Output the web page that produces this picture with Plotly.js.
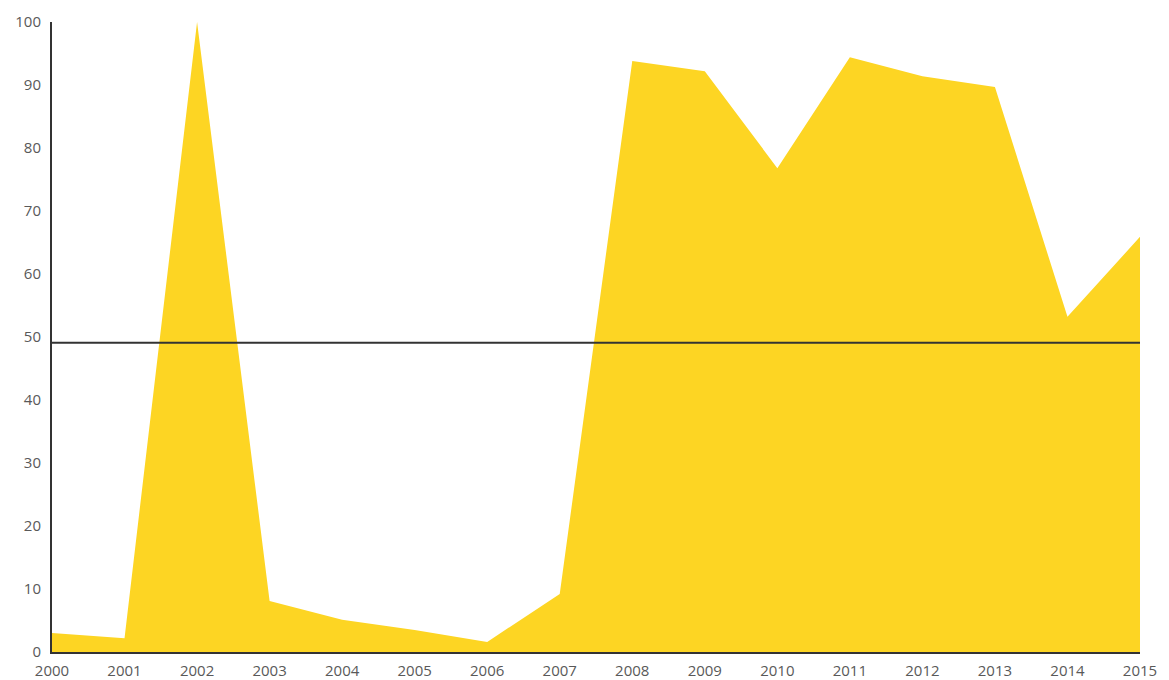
<!DOCTYPE html>
<html>
<head>
<meta charset="utf-8">
<script src="https://cdn.plot.ly/plotly-3.0.1.min.js"></script>
<style>html,body{margin:0;padding:0;background:#fff;}#chart{width:1169px;height:680px;}</style>
</head>
<body>
<div id="chart"></div>
<script>
var years = [2000,2001,2002,2003,2004,2005,2006,2007,2008,2009,2010,2011,2012,2013,2014,2015];
var values = [3.0,2.2,100,8.1,5.1,3.5,1.6,9.2,93.8,92.2,76.8,94.4,91.4,89.7,53.2,65.9];
var refLevel = [49.1,49.1];
var refYears = [2000,2015];
var yTicks = [0,10,20,30,40,50,60,70,80,90,100];

var traces = [
  {x: years, y: values, type: 'scatter', mode: 'lines', fill: 'tozeroy',
   fillcolor: '#FDD523', line: {width: 0, color: '#FDD523'}, hoverinfo: 'x+y'},
  {x: refYears, y: refLevel, type: 'scatter', mode: 'lines',
   line: {width: 2, color: '#333333'}, hoverinfo: 'y'}
];
var layout = {
  width: 1169, height: 680,
  margin: {l: 52, r: 29, t: 22, b: 28},
  showlegend: false,
  paper_bgcolor: '#fff', plot_bgcolor: '#fff',
  font: {family: 'Open Sans, Noto Sans, sans-serif', size: 15, color: '#595959'},
  xaxis: {range: [2000, 2015], tickmode: 'array', tickvals: years, ticktext: years.map(String),
          showgrid: false, zeroline: false, showline: true, linecolor: '#333', linewidth: 2,
          ticks: '', ticklabelstandoff: 4, tickfont: {size: 15, color: '#595959'}},
  yaxis: {range: [0, 100], tickmode: 'array', tickvals: yTicks, ticktext: yTicks.map(String),
          showgrid: false, zeroline: false, showline: true, linecolor: '#333', linewidth: 2,
          ticks: '', ticklabelstandoff: 6, tickfont: {size: 15, color: '#595959'}}
};
Plotly.newPlot('chart', traces, layout, {displayModeBar: false, staticPlot: true});
</script>
</body>
</html>
